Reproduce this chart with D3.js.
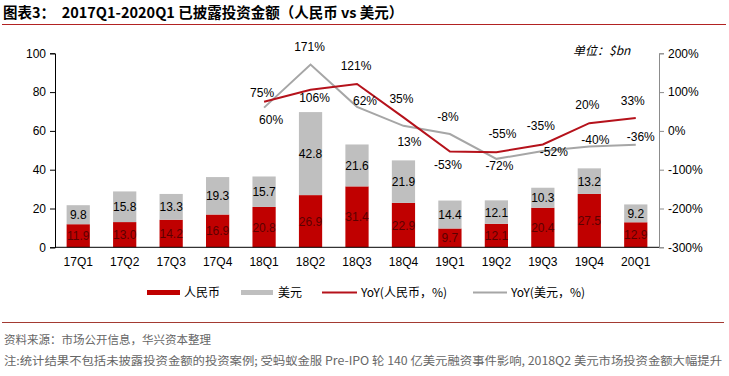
<!DOCTYPE html>
<html><head><meta charset="utf-8">
<script src="https://cdn.jsdelivr.net/npm/d3@7"></script>
<style>
html,body{margin:0;padding:0;background:#fff;}
svg{display:block;}
</style></head>
<body>
<svg id="c" width="729" height="376"></svg>
<script>
const categories = ["17Q1","17Q2","17Q3","17Q4","18Q1","18Q2","18Q3","18Q4","19Q1","19Q2","19Q3","19Q4","20Q1"];
const rmb = [11.9,13.0,14.2,16.9,20.8,26.9,31.4,22.9,9.7,12.1,20.4,27.5,12.9];
const usd = [9.8,15.8,13.3,19.3,15.7,42.8,21.6,21.9,14.4,12.1,10.3,13.2,9.2];
const yoyRmb = [null,null,null,null,75,106,121,35,-53,-55,-35,20,33];
const yoyUsd = [null,null,null,null,60,171,62,13,-8,-72,-52,-40,-36];
const leftTicks = [0,20,40,60,80,100];
const rightTicks = [-300,-200,-100,0,100,200];

// label offsets (style only)
const rmbLabelDx = [0,0,0,0,-2,4,-1,-2,-2,6,-2,-2,-3];
const rmbLabelDy = [0,0,0,0,-9,8,-18,-19,13,-19,-19,-19,-18];
const usdLabelDx = [0,0,0,0,7,-1,8,6,-2,3,11,6,5];
const usdLabelDy = [0,0,0,0,12,-18,-6,16,-18,7,0,-7,-8];

const svg = d3.select("#c");
const cjk = "'Noto Sans CJK SC', 'Liberation Sans', sans-serif";
const lat = "'Liberation Sans', Arial, sans-serif";

const L = 55, R = 659, T = 53.3, B = 247.3;
const x = d3.scaleBand().domain(categories).range([L, R]).paddingInner(0.5).paddingOuter(0.25);
const yL = d3.scaleLinear().domain([0,100]).range([B, T]);
const yR = d3.scaleLinear().domain([-300,200]).range([B, T]);

const RED = "#C00000", GRAY = "#BFBFBF", LRED = "#B5121B", LGRAY = "#A6A6A6";

// Title
svg.append("text").attr("x",3).attr("y",18).attr("font-family",cjk).attr("font-weight","bold")
  .attr("font-size",14.5).attr("fill","#000").attr("xml:space","preserve")
  .text("图表3：  2017Q1-2020Q1 已披露投资金额（人民币 vs 美元）");
svg.append("line").attr("x1",2).attr("x2",726).attr("y1",24.5).attr("y2",24.5)
  .attr("stroke","#B22222").attr("stroke-width",1.2);

// Bars
const data = categories.map((c,i)=>({c, rmb:rmb[i], usd:usd[i]}));
const g = svg.append("g");
g.selectAll("rect.r").data(data).join("rect").attr("class","r")
  .attr("x",d=>x(d.c)).attr("width",x.bandwidth())
  .attr("y",d=>yL(d.rmb)).attr("height",d=>yL(0)-yL(d.rmb)).attr("fill",RED);
g.selectAll("rect.u").data(data).join("rect").attr("class","u")
  .attr("x",d=>x(d.c)).attr("width",x.bandwidth())
  .attr("y",d=>yL(d.rmb+d.usd)).attr("height",d=>yL(0)-yL(d.usd)).attr("fill",GRAY);

// Bar labels
g.selectAll("text.rl").data(data).join("text").attr("class","rl")
  .attr("x",d=>x(d.c)+x.bandwidth()/2).attr("y",d=>yL(d.rmb/2)+4.5)
  .attr("text-anchor","middle").attr("font-family",lat).attr("font-size",12)
  .attr("fill","#5C0000").text(d=>d.rmb.toFixed(1));
g.selectAll("text.ul").data(data).join("text").attr("class","ul")
  .attr("x",d=>x(d.c)+x.bandwidth()/2).attr("y",d=>yL(d.rmb+d.usd/2)+4.5)
  .attr("text-anchor","middle").attr("font-family",lat).attr("font-size",12)
  .attr("fill","#000").text(d=>d.usd.toFixed(1));

// Axes
const axL = svg.append("g").attr("transform",`translate(${L},0)`)
  .call(d3.axisLeft(yL).tickValues(leftTicks).tickSize(5).tickPadding(4));
axL.select(".domain").attr("stroke","#000");
axL.selectAll(".tick line").attr("stroke","#000");
axL.selectAll("text").attr("font-family",lat).attr("font-size",12).attr("fill","#000");

const axR = svg.append("g").attr("transform",`translate(${R},0)`)
  .call(d3.axisRight(yR).tickValues(rightTicks).tickSize(5).tickPadding(4).tickFormat(d=>d+"%"));
axR.select(".domain").attr("stroke","#8C8C8C");
axR.selectAll(".tick line").attr("stroke","#8C8C8C");
axR.selectAll("text").attr("font-family",lat).attr("font-size",12).attr("fill","#000");

const axB = svg.append("g").attr("transform",`translate(0,${B})`)
  .call(d3.axisBottom(x).tickSize(0).tickPadding(10));
axB.select(".domain").attr("stroke","#000").attr("d",`M${L},0H${R}`);
axB.selectAll("text").attr("font-family",lat).attr("font-size",12).attr("fill","#000");

// Lines
const cx = c => x(c)+x.bandwidth()/2;
const rmbPts = categories.map((c,i)=>({c,v:yoyRmb[i],i})).filter(d=>d.v!==null);
const usdPts = categories.map((c,i)=>({c,v:yoyUsd[i],i})).filter(d=>d.v!==null);
const line = d3.line().x(d=>cx(d.c)).y(d=>yR(d.v));
svg.append("path").datum(usdPts).attr("d",line).attr("fill","none").attr("stroke",LGRAY).attr("stroke-width",2);
svg.append("path").datum(rmbPts).attr("d",line).attr("fill","none").attr("stroke",LRED).attr("stroke-width",2);

svg.selectAll("text.ry").data(rmbPts).join("text").attr("class","ry")
  .attr("x",d=>cx(d.c)+rmbLabelDx[d.i]).attr("y",d=>yR(d.v)+rmbLabelDy[d.i]+4.5)
  .attr("text-anchor","middle").attr("font-family",lat).attr("font-size",12).attr("fill","#000")
  .text(d=>d.v+"%");
svg.selectAll("text.uy").data(usdPts).join("text").attr("class","uy")
  .attr("x",d=>cx(d.c)+usdLabelDx[d.i]).attr("y",d=>yR(d.v)+usdLabelDy[d.i]+4.5)
  .attr("text-anchor","middle").attr("font-family",lat).attr("font-size",12).attr("fill","#000")
  .text(d=>d.v+"%");

// Unit
svg.append("text").attr("x",573).attr("y",55).attr("font-family",cjk).attr("font-style","italic")
  .attr("font-size",12).attr("fill","#000").text("单位：$bn");

// Legend
const ly = 292.5;
const leg = svg.append("g").attr("font-family",cjk).attr("font-size",12).attr("fill","#000");
leg.append("rect").attr("x",147).attr("y",ly-2.5).attr("width",33).attr("height",5).attr("fill",RED);
leg.append("text").attr("x",184).attr("y",ly+4).text("人民币");
leg.append("rect").attr("x",241).attr("y",ly-2.5).attr("width",32).attr("height",5).attr("fill",GRAY);
leg.append("text").attr("x",278).attr("y",ly+4).text("美元");
leg.append("line").attr("x1",322).attr("x2",357).attr("y1",ly).attr("y2",ly).attr("stroke",LRED).attr("stroke-width",2);
leg.append("text").attr("x",361).attr("y",ly+4).text("YoY(人民币，%)");
leg.append("line").attr("x1",473).attr("x2",507).attr("y1",ly).attr("y2",ly).attr("stroke",LGRAY).attr("stroke-width",2);
leg.append("text").attr("x",511).attr("y",ly+4).text("YoY(美元，%)");

// Footer
svg.append("line").attr("x1",2).attr("x2",724).attr("y1",322.5).attr("y2",322.5)
  .attr("stroke","#A33A32").attr("stroke-width",1.2);
svg.append("text").attr("x",4).attr("y",344).attr("font-family",cjk).attr("font-size",11.5)
  .attr("fill","#666").text("资料来源：市场公开信息，华兴资本整理");
svg.append("text").attr("x",4).attr("y",365).attr("font-family",cjk).attr("font-size",11.5)
  .attr("fill","#666").attr("textLength",718).attr("lengthAdjust","spacingAndGlyphs")
  .text("注:统计结果不包括未披露投资金额的投资案例; 受蚂蚁金服 Pre-IPO 轮 140 亿美元融资事件影响, 2018Q2 美元市场投资金额大幅提升");
</script>
</body></html>
